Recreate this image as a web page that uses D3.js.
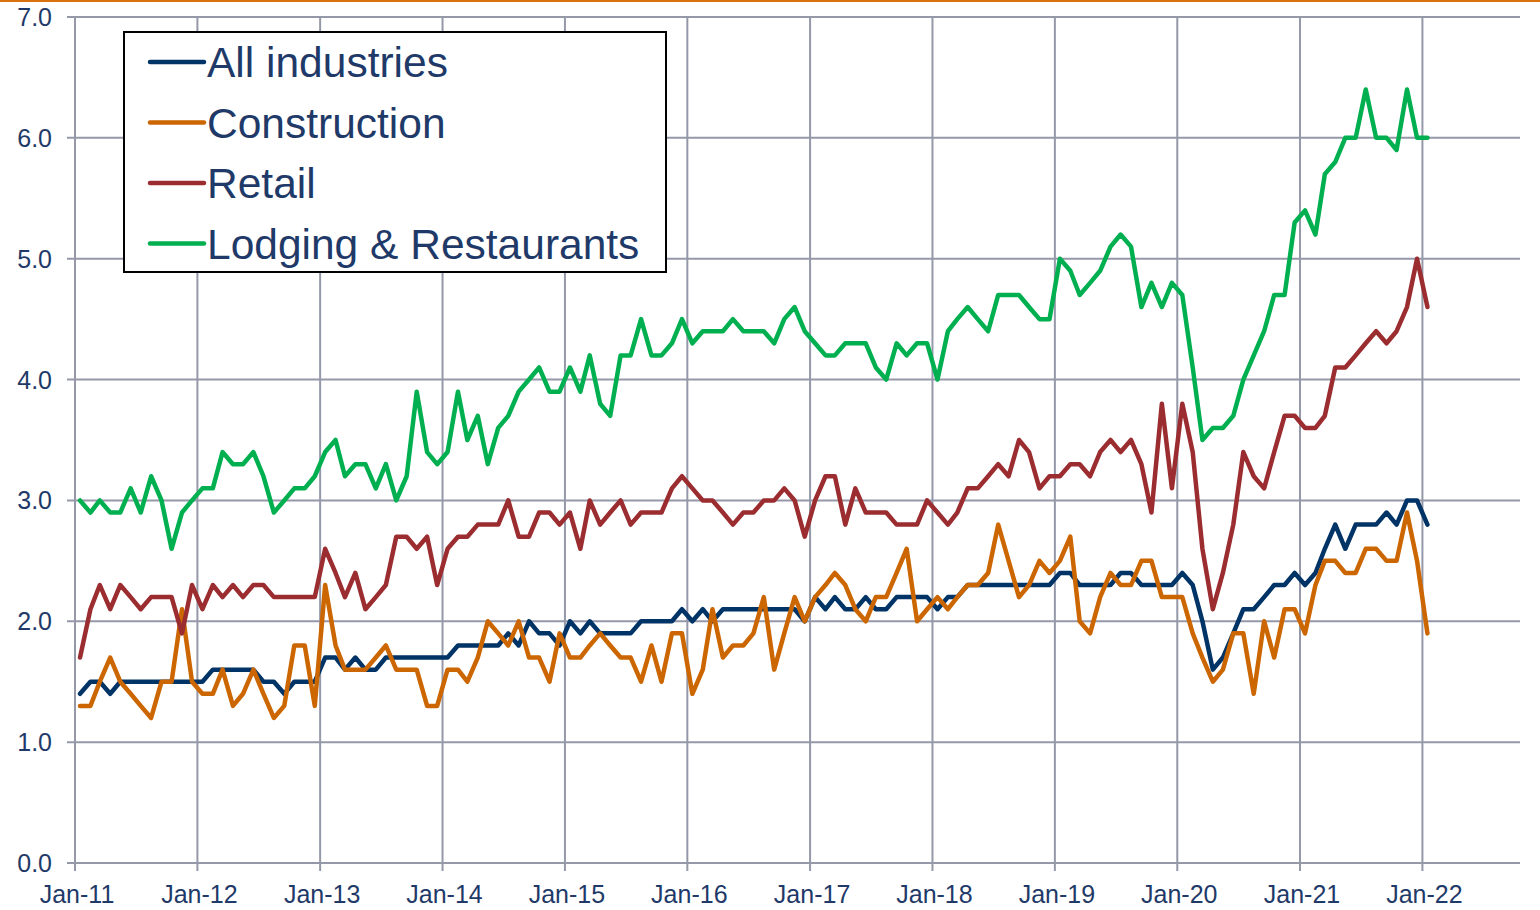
<!DOCTYPE html>
<html>
<head>
<meta charset="utf-8">
<script src="https://cdn.jsdelivr.net/npm/d3@7/dist/d3.min.js"></script>
<style>
  html, body { margin: 0; padding: 0; background: #ffffff; }
  svg { display: block; font-family: "Liberation Sans", Arial, sans-serif; }
</style>
</head>
<body>
<svg id="chart" width="1540" height="910"></svg>
<script>
// ---- Data (monthly, Jan-11 .. Jan-22) ----
const startYear = 2011;
const startMonth = 0; // January

const seriesNames = ["All industries", "Construction", "Retail", "Lodging & Restaurants"];

const allIndustries = [
  1.4, 1.5, 1.5, 1.4, 1.5, 1.5, 1.5, 1.5, 1.5, 1.5, 1.5, 1.5,
  1.5, 1.6, 1.6, 1.6, 1.6, 1.6, 1.5, 1.5, 1.4, 1.5, 1.5, 1.5,
  1.7, 1.7, 1.6, 1.7, 1.6, 1.6, 1.7, 1.7, 1.7, 1.7, 1.7, 1.7,
  1.7, 1.8, 1.8, 1.8, 1.8, 1.8, 1.9, 1.8, 2.0, 1.9, 1.9, 1.8,
  2.0, 1.9, 2.0, 1.9, 1.9, 1.9, 1.9, 2.0, 2.0, 2.0, 2.0, 2.1,
  2.0, 2.1, 2.0, 2.1, 2.1, 2.1, 2.1, 2.1, 2.1, 2.1, 2.1, 2.0,
  2.2, 2.1, 2.2, 2.1, 2.1, 2.2, 2.1, 2.1, 2.2, 2.2, 2.2, 2.2,
  2.1, 2.2, 2.2, 2.3, 2.3, 2.3, 2.3, 2.3, 2.3, 2.3, 2.3, 2.3,
  2.4, 2.4, 2.3, 2.3, 2.3, 2.3, 2.4, 2.4, 2.3, 2.3, 2.3, 2.3,
  2.4, 2.3, 2.0, 1.6, 1.7, 1.9, 2.1, 2.1, 2.2, 2.3, 2.3, 2.4,
  2.3, 2.4, 2.6, 2.8, 2.6, 2.8, 2.8, 2.8, 2.9, 2.8, 3.0, 3.0,
  2.8
];

const construction = [
  1.3, 1.3, 1.5, 1.7, 1.5, 1.4, 1.3, 1.2, 1.5, 1.5, 2.1, 1.5,
  1.4, 1.4, 1.6, 1.3, 1.4, 1.6, 1.4, 1.2, 1.3, 1.8, 1.8, 1.3,
  2.3, 1.8, 1.6, 1.6, 1.6, 1.7, 1.8, 1.6, 1.6, 1.6, 1.3, 1.3,
  1.6, 1.6, 1.5, 1.7, 2.0, 1.9, 1.8, 2.0, 1.7, 1.7, 1.5, 1.9,
  1.7, 1.7, 1.8, 1.9, 1.8, 1.7, 1.7, 1.5, 1.8, 1.5, 1.9, 1.9,
  1.4, 1.6, 2.1, 1.7, 1.8, 1.8, 1.9, 2.2, 1.6, 1.9, 2.2, 2.0,
  2.2, 2.3, 2.4, 2.3, 2.1, 2.0, 2.2, 2.2, 2.4, 2.6, 2.0, 2.1,
  2.2, 2.1, 2.2, 2.3, 2.3, 2.4, 2.8, 2.5, 2.2, 2.3, 2.5, 2.4,
  2.5, 2.7, 2.0, 1.9, 2.2, 2.4, 2.3, 2.3, 2.5, 2.5, 2.2, 2.2,
  2.2, 1.9, 1.7, 1.5, 1.6, 1.9, 1.9, 1.4, 2.0, 1.7, 2.1, 2.1,
  1.9, 2.3, 2.5, 2.5, 2.4, 2.4, 2.6, 2.6, 2.5, 2.5, 2.9, 2.5,
  1.9
];

const retail = [
  1.7, 2.1, 2.3, 2.1, 2.3, 2.2, 2.1, 2.2, 2.2, 2.2, 1.9, 2.3,
  2.1, 2.3, 2.2, 2.3, 2.2, 2.3, 2.3, 2.2, 2.2, 2.2, 2.2, 2.2,
  2.6, 2.4, 2.2, 2.4, 2.1, 2.2, 2.3, 2.7, 2.7, 2.6, 2.7, 2.3,
  2.6, 2.7, 2.7, 2.8, 2.8, 2.8, 3.0, 2.7, 2.7, 2.9, 2.9, 2.8,
  2.9, 2.6, 3.0, 2.8, 2.9, 3.0, 2.8, 2.9, 2.9, 2.9, 3.1, 3.2,
  3.1, 3.0, 3.0, 2.9, 2.8, 2.9, 2.9, 3.0, 3.0, 3.1, 3.0, 2.7,
  3.0, 3.2, 3.2, 2.8, 3.1, 2.9, 2.9, 2.9, 2.8, 2.8, 2.8, 3.0,
  2.9, 2.8, 2.9, 3.1, 3.1, 3.2, 3.3, 3.2, 3.5, 3.4, 3.1, 3.2,
  3.2, 3.3, 3.3, 3.2, 3.4, 3.5, 3.4, 3.5, 3.3, 2.9, 3.8, 3.1,
  3.8, 3.4, 2.6, 2.1, 2.4, 2.8, 3.4, 3.2, 3.1, 3.4, 3.7, 3.7,
  3.6, 3.6, 3.7, 4.1, 4.1, 4.2, 4.3, 4.4, 4.3, 4.4, 4.6, 5.0,
  4.6
];

const lodging = [
  3.0, 2.9, 3.0, 2.9, 2.9, 3.1, 2.9, 3.2, 3.0, 2.6, 2.9, 3.0,
  3.1, 3.1, 3.4, 3.3, 3.3, 3.4, 3.2, 2.9, 3.0, 3.1, 3.1, 3.2,
  3.4, 3.5, 3.2, 3.3, 3.3, 3.1, 3.3, 3.0, 3.2, 3.9, 3.4, 3.3,
  3.4, 3.9, 3.5, 3.7, 3.3, 3.6, 3.7, 3.9, 4.0, 4.1, 3.9, 3.9,
  4.1, 3.9, 4.2, 3.8, 3.7, 4.2, 4.2, 4.5, 4.2, 4.2, 4.3, 4.5,
  4.3, 4.4, 4.4, 4.4, 4.5, 4.4, 4.4, 4.4, 4.3, 4.5, 4.6, 4.4,
  4.3, 4.2, 4.2, 4.3, 4.3, 4.3, 4.1, 4.0, 4.3, 4.2, 4.3, 4.3,
  4.0, 4.4, 4.5, 4.6, 4.5, 4.4, 4.7, 4.7, 4.7, 4.6, 4.5, 4.5,
  5.0, 4.9, 4.7, 4.8, 4.9, 5.1, 5.2, 5.1, 4.6, 4.8, 4.6, 4.8,
  4.7, 4.1, 3.5, 3.6, 3.6, 3.7, 4.0, 4.2, 4.4, 4.7, 4.7, 5.3,
  5.4, 5.2, 5.7, 5.8, 6.0, 6.0, 6.4, 6.0, 6.0, 5.9, 6.4, 6.0,
  6.0
];

const yTicks = [0, 1, 2, 3, 4, 5, 6, 7];
const xTickYears = [2011, 2012, 2013, 2014, 2015, 2016, 2017, 2018, 2019, 2020, 2021, 2022];

// ---- Layout / style ----
const W = 1540, H = 910;
const plot = { left: 75, right: 1520, top: 17, bottom: 863 };
const colors = ["#003366", "#CC6600", "#9B2D30", "#00B050"];
const textColor = "#1F3A68";
const gridColor = "#9598A8";

const svg = d3.select("#chart");

// top rule
svg.append("line")
  .attr("x1", 0).attr("x2", W).attr("y1", 1).attr("y2", 1)
  .attr("stroke", "#D9730D").attr("stroke-width", 2);

// x scale: time, Jan-22 gridline at ~1422
const x = d3.scaleTime()
  .domain([new Date(2011, 0, 1), new Date(2022, 9, 19)])
  .range([plot.left, plot.right]);
const y = d3.scaleLinear().domain([0, 7]).range([plot.bottom, plot.top]);

const monthDate = i => new Date(startYear, startMonth + i, 16);

// gridlines horizontal
const g = svg.append("g");
g.selectAll(".hgrid").data(yTicks).join("line")
  .attr("x1", plot.left - 8).attr("x2", plot.right)
  .attr("y1", d => y(d)).attr("y2", d => y(d))
  .attr("stroke", gridColor).attr("stroke-width", 2);

const xTickDates = xTickYears.map(yr => new Date(yr, 0, 1));
g.selectAll(".vgrid").data(xTickDates).join("line")
  .attr("x1", d => x(d)).attr("x2", d => x(d))
  .attr("y1", plot.top).attr("y2", plot.bottom + 8)
  .attr("stroke", gridColor).attr("stroke-width", 2);

// axes labels
const fmtX = d3.timeFormat("%b-%y");
svg.append("g").selectAll("text").data(xTickDates).join("text")
  .attr("x", d => x(d) + 2).attr("y", 903)
  .attr("text-anchor", "middle")
  .attr("font-size", 25).attr("fill", textColor)
  .text(d => fmtX(d));

svg.append("g").selectAll("text").data(yTicks).join("text")
  .attr("x", 52).attr("y", d => y(d) + 9)
  .attr("text-anchor", "end")
  .attr("font-size", 25).attr("fill", textColor)
  .text(d => d3.format(".1f")(d));

// lines
const series = [allIndustries, construction, retail, lodging];
const lineGen = d3.line()
  .x((d, i) => x(monthDate(i)))
  .y(d => y(d));

[0, 1, 2, 3].forEach(k => {
  svg.append("path")
    .datum(series[k])
    .attr("d", lineGen)
    .attr("fill", "none")
    .attr("stroke", colors[k])
    .attr("stroke-width", 4.5)
    .attr("stroke-linejoin", "round")
    .attr("stroke-linecap", "round");
});

// legend
const lg = svg.append("g");
lg.append("rect")
  .attr("x", 124).attr("y", 32).attr("width", 542).attr("height", 240)
  .attr("fill", "#ffffff").attr("stroke", "#000000").attr("stroke-width", 2);
seriesNames.forEach((name, k) => {
  const cy = 62 + k * 60.5;
  lg.append("line")
    .attr("x1", 150).attr("x2", 204).attr("y1", cy).attr("y2", cy)
    .attr("stroke", colors[k]).attr("stroke-width", 4.5).attr("stroke-linecap", "round");
  lg.append("text")
    .attr("x", 207).attr("y", cy + 15)
    .attr("font-size", 42.5).attr("fill", textColor)
    .text(name);
});
</script>
</body>
</html>
